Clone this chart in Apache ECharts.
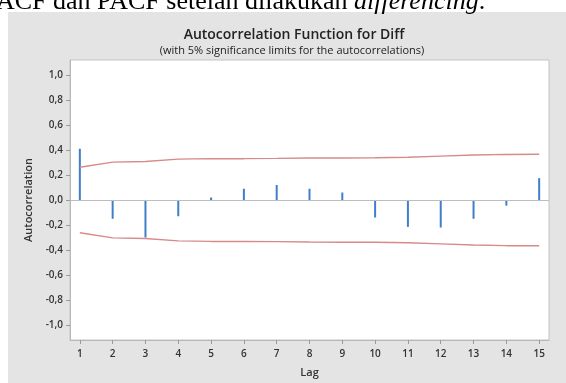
<!DOCTYPE html>
<html>
<head>
<meta charset="utf-8">
<script src="https://cdn.jsdelivr.net/npm/echarts@6/dist/echarts.min.js"></script>
<style>
html, body { margin: 0; padding: 0; background: #fff; }
#acf-chart { width: 566px; height: 383px; }
</style>
</head>
<body>
<div id="acf-chart"></div>
<script>
// lags and autocorrelations
var lags = [1, 2, 3, 4, 5, 6, 7, 8, 9, 10, 11, 12, 13, 14, 15];
var acf = [0.41, -0.15, -0.30, -0.13, 0.02, 0.09, 0.12, 0.09, 0.06, -0.14, -0.215, -0.22, -0.15, -0.045, 0.175];
var upperLimit = [0.262, 0.303, 0.308, 0.327, 0.331, 0.331, 0.333, 0.336, 0.337, 0.338, 0.342, 0.351, 0.360, 0.365, 0.366];
var lowerLimit = [-0.262, -0.303, -0.308, -0.327, -0.331, -0.331, -0.333, -0.336, -0.337, -0.338, -0.342, -0.351, -0.360, -0.365, -0.366];
var yTicks = [-1.0, -0.8, -0.6, -0.4, -0.2, 0.0, 0.2, 0.4, 0.6, 0.8, 1.0];

var labelFont = '"Open Sans", "Noto Sans", sans-serif';

function pairs(ys) {
    return lags.map(function (l, i) { return [l, ys[i]]; });
}

var acfChart = echarts.init(document.getElementById('acf-chart'));

var acfChartOption = {
    backgroundColor: '#fff',
    animation: false,
    graphic: [
        {
            type: 'rect',
            z: -100,
            shape: { x: 8, y: 12, width: 560, height: 373 },
            style: { fill: '#e4e4e4' }
        },
        {
            // caption of the document, cut off at the top
            type: 'text',
            x: -4,
            y: -11,
            style: {
                text: '{n|ACF dan PACF setelah dilakukan }{i|differencing}{n|.}',
                rich: {
                    n: { fontFamily: '"Liberation Serif", serif', fontSize: 26, fill: '#000' },
                    i: { fontFamily: '"Liberation Serif", serif', fontSize: 26, fontStyle: 'italic', fill: '#000' }
                }
            }
        }
    ],
    title: [
        {
            text: 'Autocorrelation Function for Diff',
            left: 289,
            top: 23,
            textAlign: 'center',
            textStyle: { fontFamily: labelFont, fontSize: 14, fontWeight: 600, color: '#222' }
        },
        {
            text: '(with 5% significance limits for the autocorrelations)',
            left: 287,
            top: 40,
            textAlign: 'center',
            textStyle: { fontFamily: labelFont, fontSize: 11, fontWeight: 'normal', color: '#222' }
        }
    ],
    grid: {
        left: 70,
        right: 17,
        top: 60,
        bottom: 41,
        show: true,
        backgroundColor: '#fff',
        borderColor: '#c4c4c4',
        borderWidth: 1
    },
    xAxis: {
        type: 'value',
        min: 0.7,
        max: 15.3,
        name: 'Lag',
        nameLocation: 'middle',
        nameGap: 27,
        nameTextStyle: { fontFamily: labelFont, fontSize: 11, fontWeight: 600, color: '#333' },
        splitLine: { show: false },
        axisLine: { onZero: false, lineStyle: { color: '#b8b8b8' } },
        axisTick: { show: true, length: 4, customValues: lags, lineStyle: { color: '#999' } },
        axisLabel: { customValues: lags, fontFamily: labelFont, fontSize: 10, fontWeight: 600, color: '#333', margin: 9 }
    },
    yAxis: {
        type: 'value',
        min: -1.12,
        max: 1.12,
        name: 'Autocorrelation',
        nameLocation: 'middle',
        nameGap: 27,
        nameTextStyle: { fontFamily: labelFont, fontSize: 11, fontWeight: 600, color: '#333' },
        splitLine: { show: false },
        axisLine: { show: true, lineStyle: { color: '#b8b8b8' } },
        axisTick: { show: true, length: 4, customValues: yTicks, lineStyle: { color: '#999' } },
        axisLabel: {
            customValues: yTicks,
            fontFamily: labelFont,
            fontSize: 10,
            fontWeight: 600,
            color: '#333',
            margin: 7,
            formatter: function (v) { return v.toFixed(1).replace('.', ','); }
        }
    },
    series: [
        {
            name: 'ACF',
            type: 'bar',
            barWidth: 2,
            itemStyle: { color: '#3f7fc8' },
            data: pairs(acf),
            markLine: {
                silent: true,
                symbol: 'none',
                label: { show: false },
                lineStyle: { color: '#bdbdbd', width: 1, type: 'solid' },
                data: [{ yAxis: 0 }]
            }
        },
        {
            name: 'Upper',
            type: 'line',
            symbol: 'none',
            lineStyle: { color: '#d68a8a', width: 1.5 },
            data: pairs(upperLimit)
        },
        {
            name: 'Lower',
            type: 'line',
            symbol: 'none',
            lineStyle: { color: '#d68a8a', width: 1.5 },
            data: pairs(lowerLimit)
        }
    ]
};

acfChart.setOption(acfChartOption);
</script>
</body>
</html>
